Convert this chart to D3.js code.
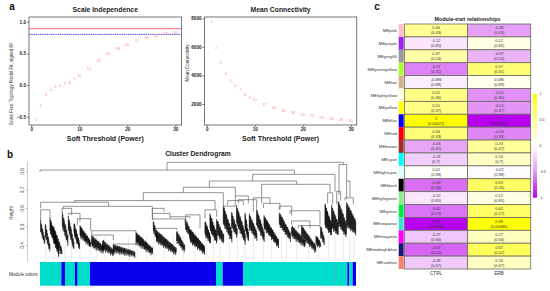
<!DOCTYPE html>
<html>
<head>
<meta charset="utf-8">
<script src="https://cdn.jsdelivr.net/npm/d3@7"></script>
<style>
  html, body { margin: 0; padding: 0; background: #fff; }
  text { font-family: "Liberation Sans", Arial, sans-serif; }
</style>
</head>
<body>
<svg id="chart" width="550" height="291"></svg>
<script>
// soft threshold panels
const powers = [1, 2, 3, 4, 5, 6, 7, 8, 9, 10, 12, 14, 16, 18, 20, 22, 24, 26, 28, 30];
const fitR2 = [-0.55, -0.33, -0.16, -0.07, -0.02, -0.005, 0.015, 0.04, 0.095, 0.15, 0.26, 0.39, 0.5, 0.57, 0.64, 0.7, 0.74, 0.78, 0.805, 0.825];
const meanK = [7740, 5940, 4920, 4150, 3660, 3260, 2980, 2680, 2440, 2280, 1980, 1740, 1560, 1390, 1280, 1160, 1070, 1000, 930, 860];

// dendrogram: leaf position, top height, left child height, right child height
const treeLinks = [
  [501, 1030, .847, .805, .835],
  [120, 883, .805, .795, .782],
  [758, 1005, .782, .746, .688],
  [628, 890, .746, .712, .728],
  [550, 706, .712, .683, .665],
  [430, 670, .683, .640, .610],
  [223, 645, .640, .631, .590],
  [122, 325, .631, .598, .609],
  [190, 457, .609, .598, .541],
  [122, 150, .590, .535, .553],
  [186, 215, .598, .580, .562],
  [205, 240, .571, .562, .526],
  [232, 272, .542, .508, .477],
  [275, 408, .477, .454, .472],
  [275, 340, .454, .436, .427],
  [340, 408, .405, .400, .400],
  [457, 492, .598, .571, .580],
  [458, 510, .571, .535, .553],
  [458, 555, .541, .535, .508],
  [468, 530, .490, .481, .481],
  [510, 570, .553, .544, .544],
  [557, 600, .563, .544, .490],
  [615, 650, .590, .544, .553],
  [670, 705, .610, .616, .616],
  [683, 730, .640, .616, .616],
  [706, 745, .665, .616, .625],
  [715, 770, .645, .625, .580],
  [785, 990, .728, .625, .682],
  [760, 810, .655, .580, .625],
  [790, 840, .625, .600, .590],
  [838, 875, .610, .590, .560],
  [870, 960, .585, .570, .510],
  [875, 930, .530, .510, .490],
  [895, 960, .505, .490, .490],
  [983, 998, .682, .625, .620],
  [1017, 1040, .835, .670, .745],
  [1010, 1022, .690, .620, .640],
  [1040, 1050, .745, .650, .660],
  [1035, 1060, .655, .640, .620]
];

// black leaf wedges: start, end, start height, end height, band depth
const leafWedges = [
  [122, 135, .535, .409, .05], [136, 150, .520, .373, .06], [150, 178, .553, .346, .07],
  [160, 186, .508, .355, .05], [187, 205, .580, .409, .07], [205, 222, .562, .382, .07],
  [222, 240, .526, .382, .06], [240, 272, .508, .400, .05], [275, 312, .454, .370, .05],
  [308, 342, .430, .355, .04], [340, 405, .405, .352, .03], [408, 458, .472, .360, .05],
  [460, 472, .535, .436, .05], [470, 530, .481, .360, .05], [530, 555, .481, .373, .05],
  [557, 572, .544, .454, .05], [570, 615, .490, .364, .06], [615, 632, .535, .418, .07],
  [630, 652, .571, .418, .08], [650, 672, .544, .418, .07], [670, 697, .616, .427, .09],
  [695, 712, .580, .454, .07], [710, 737, .616, .418, .09], [735, 747, .580, .418, .08],
  [748, 772, .571, .436, .07], [770, 794, .598, .427, .08], [792, 836, .562, .400, .06],
  [838, 872, .580, .436, .06], [875, 917, .508, .400, .05], [905, 948, .508, .373, .05],
  [948, 962, .454, .400, .04], [962, 974, .508, .409, .05],
  [975, 995, .625, .463, .11], [995, 1015, .616, .463, .11], [1015, 1040, .643, .454, .12],
  [1040, 1068, .634, .472, .12]
];

// how far single leaves hang below a wedge and stick out of its top
const leafFringe = [.016, .004, .010, .022, .002, .012, .006, .018, .001, .011];
const leafNotch = [.000, .007, .002, .010, .001, .005, .012, .001, .003, .008, .002];

// grey leaf drops below the wedges
const dropLeaves = [138, 162, 195, 215, 240, 270, 290, 315, 340, 385, 412, 440, 462, 492, 520, 550, 585, 618, 640, 660, 688, 712, 735, 760, 790, 815, 845, 860, 890, 925, 955, 985, 1005, 1030, 1050, 1062];

// module colour bar: colour and where the block ends
const moduleColors = ["#00dccc", "#0a00ee", "#00dccc", "#0a00ee", "#00dccc", "#0a00ee", "#00dccc", "#0a00ee", "#00dccc", "#2a60e0", "#00dccc", "#0a00ee", "#00dccc", "#0a00ee"];
const moduleEnds = [184, 195, 225, 233, 270, 648, 668, 730, 1005, 1007, 1042, 1048, 1058, 1068];

// module-trait heatmap
const modules = ["MEpink", "MEpurple", "MEgrey60", "MEgreenyellow", "MEtan", "MElightyellow", "MEyellow", "MEblue", "MEred", "MEbrown", "MEcyan", "MElightcyan", "MEblack", "MElightgreen", "MEgreen", "MEturquoise", "MEmagenta", "MEmidnightblue", "MEsalmon"];
const moduleSwatch = ["#ffc0cb", "#a020f0", "#999999", "#adff2f", "#d2b48c", "#ffffe0", "#ffff00", "#0000ff", "#ff0000", "#a52a2a", "#00ffff", "#e0ffff", "#000000", "#90ee90", "#00ee44", "#40e0d0", "#ff00ff", "#191970", "#fa8072"];
const traits = ["CTRL", "ERB"];
const ctrlCor = [0.46, -0.12, 0.37, -0.57, -0.086, 0.52, 0.51, 1, 0.56, -0.43, -0.24, 0.02, -0.63, -0.12, -0.62, -0.99, -0.27, -0.67, -0.26];
const erbCor = [-0.46, 0.12, -0.37, 0.57, 0.086, -0.52, -0.51, -1, -0.56, 0.43, 0.24, -0.02, 0.63, 0.12, 0.62, 0.99, 0.27, 0.67, 0.26];
const corP = ["0.43", "0.85", "0.54", "0.31", "0.89", "0.36", "0.37", "0.00021", "0.33", "0.47", "0.7", "0.98", "0.26", "0.85", "0.27", "0.00086", "0.66", "0.22", "0.67"];
const legendTicks = [1, 0.5, 0, -0.5, -1];

const svg = d3.select("#chart");
const axisColor = "#444";

function label(x, y, txt, size, opts) {
  opts = opts || {};
  return svg.append("text")
    .attr("x", x).attr("y", y)
    .attr("text-anchor", opts.anchor || "middle")
    .attr("font-size", size)
    .attr("font-weight", opts.bold ? "bold" : "normal")
    .attr("fill", opts.fill || "#222")
    .text(txt);
}

label(12, 9.5, "a", 10, { bold: true, fill: "#111" });
label(10, 158, "b", 10, { bold: true, fill: "#111" });
label(377, 10, "c", 10, { bold: true, fill: "#111" });

function thresholdPanel(cfg) {
  const x = d3.scaleLinear().domain([0, 30]).range(cfg.xRange);
  const y = d3.scaleLinear().domain(cfg.yDomain).range(cfg.yRange);
  const g = svg.append("g");

  cfg.extra && cfg.extra(g, y);

  g.selectAll("text.pt")
    .data(powers)
    .join("text")
    .attr("class", "pt")
    .attr("x", d => x(d))
    .attr("y", (d, i) => y(cfg.values[i]) + 1.3)
    .attr("text-anchor", "middle")
    .attr("font-size", 3.8)
    .attr("fill", "#f88")
    .text(d => d);

  g.append("rect")
    .attr("x", cfg.box[0]).attr("y", cfg.box[1])
    .attr("width", cfg.box[2] - cfg.box[0]).attr("height", cfg.box[3] - cfg.box[1])
    .attr("fill", "none").attr("stroke", "#777").attr("stroke-width", 1);

  const xAxis = g.append("g")
    .attr("transform", "translate(0," + cfg.box[3] + ")")
    .call(d3.axisBottom(x).tickValues([0, 10, 20, 30]).tickSize(2).tickPadding(1));
  const yAxis = g.append("g")
    .attr("transform", "translate(" + cfg.box[0] + ",0)")
    .call(d3.axisLeft(y).tickValues(cfg.yTicks).tickSize(2).tickPadding(1).tickFormat(cfg.yFormat));
  [xAxis, yAxis].forEach(a => {
    a.select(".domain").remove();
    a.selectAll("line").attr("stroke", axisColor).attr("stroke-width", 0.7);
    a.selectAll("text")
      .attr("font-size", 4.6).attr("font-weight", "bold").attr("fill", "#222")
      .style("font-family", '"Liberation Sans", Arial, sans-serif');
  });

  label((cfg.box[0] + cfg.box[2]) / 2, 11.5, cfg.title, 6.8, { bold: true });
  label((cfg.box[0] + cfg.box[2]) / 2, 140.5, "Soft Threshold (Power)", 7, { bold: true });

  svg.append("text")
    .attr("transform", "translate(" + cfg.yTitleX + "," + cfg.yTitleY + ") rotate(-90)")
    .attr("text-anchor", "middle")
    .attr("font-size", 4.5)
    .attr("fill", "#333")
    .text(cfg.yTitle);
}

thresholdPanel({
  title: "Scale Independence",
  values: fitR2,
  xRange: [31.3, 175.3],
  yDomain: [-0.5, 1],
  yRange: [116.7, 21.7],
  yTicks: [-0.5, 0, 0.5, 1],
  yFormat: d3.format(".1f"),
  box: [29, 17, 181.5, 125],
  yTitle: "Scale Free Topology Model Fit, signed R²",
  yTitleX: 13,
  yTitleY: 84,
  extra: function (g, y) {
    g.append("line").attr("x1", 29).attr("x2", 181.5).attr("y1", y(0.89)).attr("y2", y(0.89))
      .attr("stroke", "#f66").attr("stroke-width", 1);
    g.append("line").attr("x1", 29).attr("x2", 181.5).attr("y1", y(0.8)).attr("y2", y(0.8))
      .attr("stroke", "#4a4aff").attr("stroke-width", 1).attr("stroke-dasharray", "1.5,0.7");
  }
});

thresholdPanel({
  title: "Mean Connectivity",
  values: meanK,
  xRange: [206.7, 350.7],
  yDomain: [2000, 8000],
  yRange: [104, 18.3],
  yTicks: [2000, 4000, 6000, 8000],
  yFormat: d3.format("d"),
  box: [204.5, 17, 356.7, 125],
  yTitle: "Mean Connectivity",
  yTitleX: 189,
  yTitleY: 63
});

// dendrogram
const leafX = d3.scaleLinear().domain([120, 1068]).range([40, 356]);
const heightY = d3.scaleLinear().domain([0.4, 0.8]).range([245, 171]);
const dendro = svg.append("g");

dendro.selectAll("line.drop")
  .data(dropLeaves)
  .join("line")
  .attr("class", "drop")
  .attr("x1", d => leafX(d)).attr("x2", d => leafX(d))
  .attr("y1", heightY(0.45)).attr("y2", heightY(0.315))
  .attr("stroke", "#e2e2e2").attr("stroke-width", 0.7);

// each wedge is drawn as single hanging leaves, not a solid shape
const leafStrokes = [];
leafWedges.forEach(function (w, k) {
  d3.range(w[0], w[1], 1.5).forEach(function (pos, i) {
    const t = (pos - w[0]) / (w[1] - w[0]);
    const top = w[2] + (w[3] + w[4] * 0.5 - w[2]) * t;
    const bottom = (w[2] - w[4]) + (w[3] - w[2] + w[4]) * t;
    leafStrokes.push({
      pos: pos,
      top: top - leafNotch[(i + k) % leafNotch.length],
      bottom: bottom - leafFringe[(i + k * 3) % leafFringe.length]
    });
  });
});
dendro.selectAll("line.leaf")
  .data(leafStrokes)
  .join("line")
  .attr("class", "leaf")
  .attr("x1", d => leafX(d.pos)).attr("x2", d => leafX(d.pos))
  .attr("y1", d => heightY(d.top)).attr("y2", d => heightY(d.bottom))
  .attr("stroke", "#000").attr("stroke-width", 0.75);

const linkPath = d3.line().x(d => leafX(d[0])).y(d => heightY(d[1]));
dendro.selectAll("path.link")
  .data(treeLinks)
  .join("path")
  .attr("class", "link")
  .attr("d", d => linkPath([[d[0], d[3]], [d[0], d[2]], [d[1], d[2]], [d[1], d[4]]]))
  .attr("fill", "none")
  .attr("stroke", "#666")
  .attr("stroke-width", 0.7);

const yAxisD = dendro.append("g")
  .attr("transform", "translate(27.5,0)")
  .call(d3.axisLeft(heightY).tickValues([0.4, 0.5, 0.6, 0.7, 0.8]).tickSize(2).tickPadding(1).tickFormat(d3.format(".1f")));
yAxisD.select(".domain").attr("d", "M0," + heightY(0.31) + "V" + heightY(0.85)).attr("stroke", "#aaa").attr("stroke-width", 0.6);
yAxisD.selectAll("line").attr("stroke", "#888").attr("stroke-width", 0.5);
yAxisD.selectAll("text")
  .attr("font-size", 4.8).attr("fill", "#555")
  .attr("transform", "rotate(-90)")
  .attr("text-anchor", "middle")
  .attr("x", 0).attr("y", -4).attr("dy", 0)
  .style("font-family", '"Liberation Sans", Arial, sans-serif');

svg.append("text")
  .attr("transform", "translate(12.5,213) rotate(-90)")
  .attr("text-anchor", "middle")
  .attr("font-size", 4.8).attr("fill", "#444")
  .text("Height");

label(198, 155.5, "Cluster Dendrogram", 6.8, { bold: true });
label(37.5, 275.5, "Module colors", 4.6, { anchor: "end", fill: "#333" });

dendro.selectAll("rect.mod")
  .data(moduleEnds)
  .join("rect")
  .attr("class", "mod")
  .attr("x", (d, i) => leafX(i ? moduleEnds[i - 1] : 120))
  .attr("width", (d, i) => leafX(d) - leafX(i ? moduleEnds[i - 1] : 120))
  .attr("y", 262).attr("height", 23.7)
  .attr("fill", (d, i) => moduleColors[i]);

// heatmap
const rowY = d3.scaleBand().domain(modules).range([24, 269]);
const colX = d3.scaleBand().domain(traits).range([404.5, 530.7]);
const corColor = d3.scaleLinear()
  .domain([-1, -0.5, 0, 0.5, 1])
  .range(["#b800f0", "#e498f6", "#ffffff", "#ffff88", "#ffff00"]);
const heat = svg.append("g");

label(467.5, 20.5, "Module-trait relationships", 5.4, { bold: true });

modules.forEach(function (m, i) {
  heat.append("rect")
    .attr("x", 398.7).attr("width", 5)
    .attr("y", rowY(m)).attr("height", rowY.bandwidth())
    .attr("fill", moduleSwatch[i]);
  heat.append("text")
    .attr("x", 397).attr("y", rowY(m) + rowY.bandwidth() / 2 + 1.6)
    .attr("text-anchor", "end")
    .attr("font-size", 4.3).attr("fill", "#333")
    .text(m);

  [ctrlCor[i], erbCor[i]].forEach(function (v, j) {
    const cx = colX(traits[j]);
    heat.append("rect")
      .attr("x", cx).attr("y", rowY(m))
      .attr("width", colX.bandwidth()).attr("height", rowY.bandwidth())
      .attr("fill", corColor(v))
      .attr("stroke", "#6b6b60").attr("stroke-width", 0.8);
    heat.append("text")
      .attr("x", cx + colX.bandwidth() / 2).attr("y", rowY(m) + 5.4)
      .attr("text-anchor", "middle").attr("font-size", 3.9).attr("fill", "#333")
      .text(v);
    heat.append("text")
      .attr("x", cx + colX.bandwidth() / 2).attr("y", rowY(m) + 10.4)
      .attr("text-anchor", "middle").attr("font-size", 3.9).attr("fill", "#333")
      .text("(" + corP[i] + ")");
  });
});

traits.forEach(function (t) {
  label(colX(t) + colX.bandwidth() / 2, 275, t, 4.6, { fill: "#333" });
});

// colour legend
const legendY = d3.scaleLinear().domain([-1, 1]).range([197.7, 94]);
const defs = svg.append("defs");
const grad = defs.append("linearGradient").attr("id", "corGrad").attr("x1", 0).attr("x2", 0).attr("y1", 1).attr("y2", 0);
[-1, -0.5, 0, 0.5, 1].forEach(function (v) {
  grad.append("stop").attr("offset", (v + 1) / 2).attr("stop-color", corColor(v));
});
heat.append("rect")
  .attr("x", 533).attr("width", 4)
  .attr("y", legendY(1)).attr("height", legendY(-1) - legendY(1))
  .attr("fill", "url(#corGrad)");
legendTicks.forEach(function (v) {
  label(539.5, legendY(v) + 1.2, v, 3.6, { anchor: "start", fill: "#333" });
});
</script>
</body>
</html>
